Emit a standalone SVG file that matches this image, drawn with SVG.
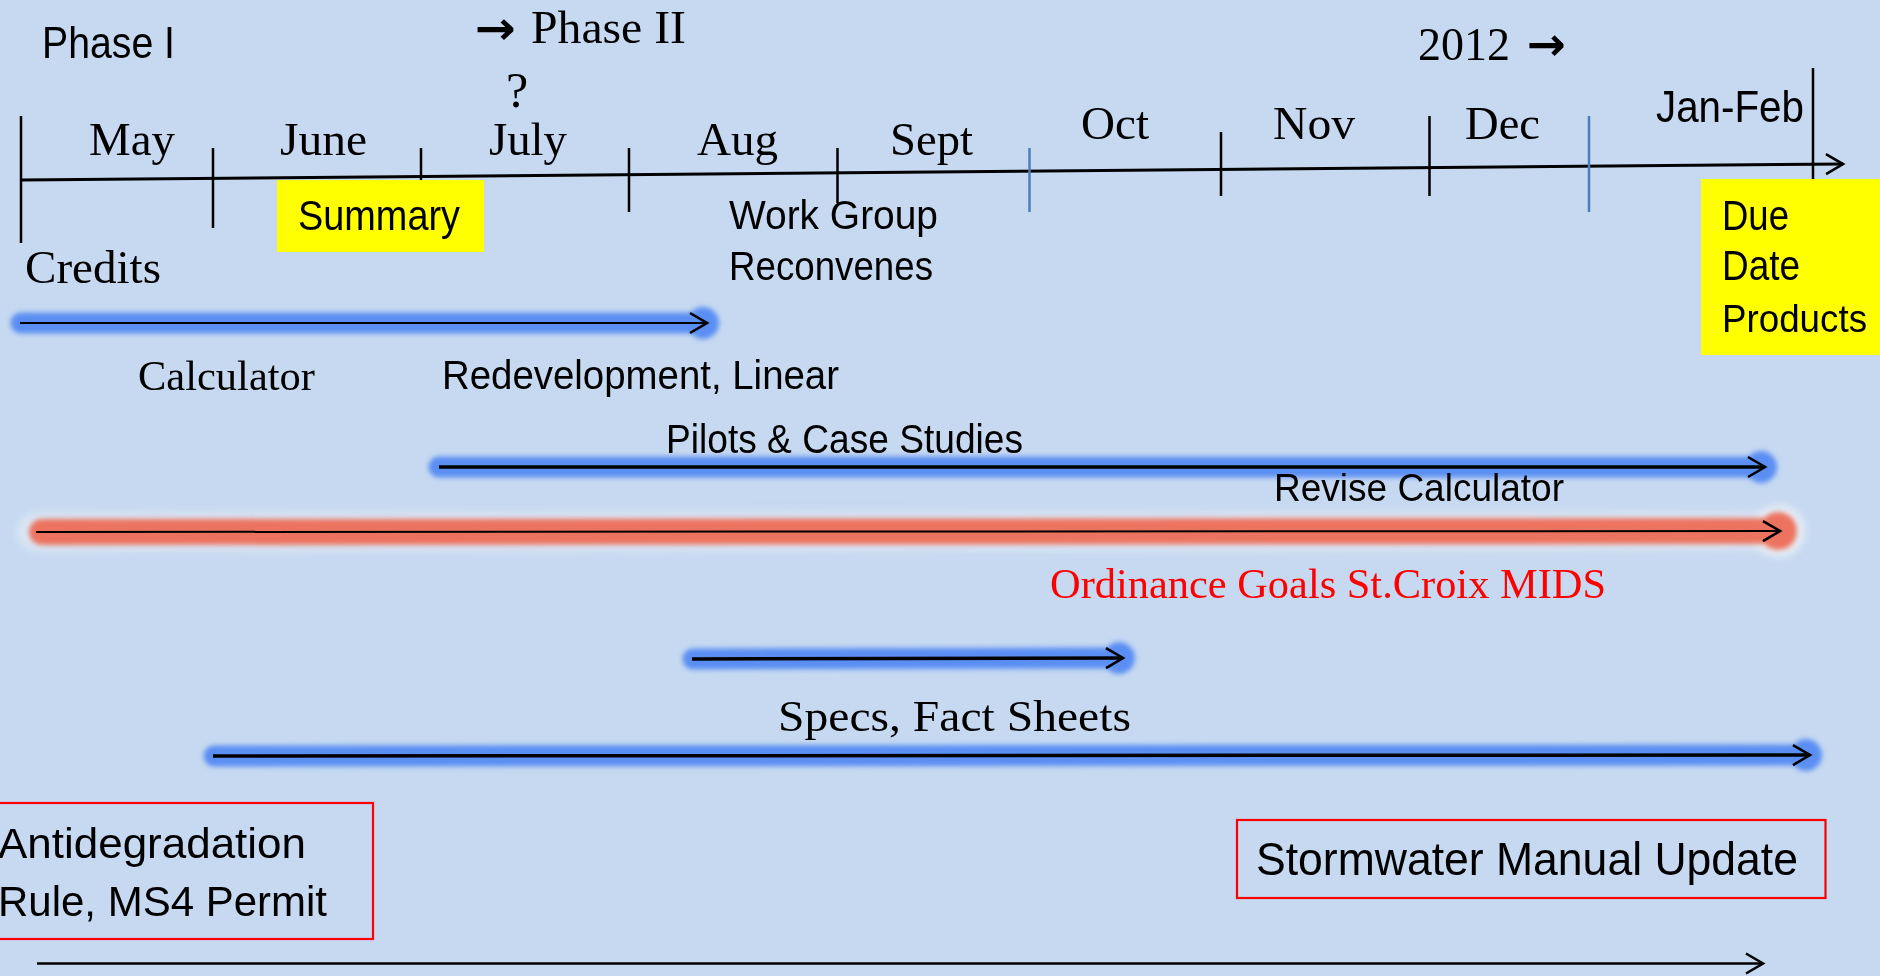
<svg xmlns="http://www.w3.org/2000/svg" width="1880" height="976" viewBox="0 0 1880 976">
<style>
.serif{font-family:"Liberation Serif","Times New Roman",serif;fill:#000}
.sans{font-family:"Liberation Sans",Arial,sans-serif;fill:#000}
.sym{font-family:"DejaVu Sans",sans-serif;font-weight:bold;fill:#000}
.tick{stroke:#000;stroke-width:2.5}
.btick{stroke:#4a7ebb;stroke-width:2.5}
.line{fill:none;stroke:#000}
.bglow{fill:none;stroke:#5a8ef3;stroke-width:21;stroke-linecap:round}
.rglow{fill:none;stroke:#ec735e;stroke-width:26;stroke-linecap:round}
.redbox{fill:none;stroke:#ff0000;stroke-width:2.2}
</style>
<defs>
<filter id="blur" filterUnits="userSpaceOnUse" x="0" y="0" width="1880" height="976"><feGaussianBlur stdDeviation="2.6"/></filter>
<filter id="blur2" filterUnits="userSpaceOnUse" x="0" y="0" width="1880" height="976"><feGaussianBlur stdDeviation="4"/></filter>
<marker id="chev" markerUnits="userSpaceOnUse" markerWidth="26" markerHeight="26" viewBox="-22 -13 26 26" refX="0" refY="0" orient="auto" overflow="visible">
<path d="M-17,-10 L0,0 L-17,10" fill="none" stroke="#000" stroke-width="2.6" stroke-linejoin="miter"/>
</marker>
</defs>
<rect x="0" y="0" width="1880" height="976" fill="#c6d9f1"/>

<g id="highlights">
<rect id="summary-box" x="277" y="180" width="207" height="72" fill="#ffff00"/>
<rect id="due-box" x="1701" y="179" width="179" height="176" fill="#ffff00"/>
</g>

<g id="timeline">
<path class="line" d="M21,180 L1843,164" stroke-width="3" marker-end="url(#chev)"/>
<line class="tick" x1="21" y1="116" x2="21" y2="243"/>
<line class="tick" x1="213" y1="148" x2="213" y2="228"/>
<line class="tick" x1="421" y1="148" x2="421" y2="180"/>
<line class="tick" x1="629" y1="148" x2="629" y2="212"/>
<line class="tick" x1="837.5" y1="148" x2="837.5" y2="203"/>
<line class="btick" x1="1029.5" y1="148" x2="1029.5" y2="212"/>
<line class="tick" x1="1221" y1="132" x2="1221" y2="196"/>
<line class="tick" x1="1429.5" y1="116" x2="1429.5" y2="196"/>
<line class="btick" x1="1589" y1="116" x2="1589" y2="212"/>
<line class="tick" x1="1813" y1="68" x2="1813" y2="179"/>
</g>

<g id="connectors">
<g filter="url(#blur)">
<path class="bglow" d="M21,323 L702,323"/>
<circle cx="703" cy="323" r="16" fill="#5a8ef3"/>
<path class="bglow" d="M439,467 L1760,467"/>
<circle cx="1761" cy="467" r="16" fill="#5a8ef3"/>
<path class="bglow" d="M693,659 L1118,658"/>
<circle cx="1119" cy="658" r="16" fill="#5a8ef3"/>
<path class="bglow" d="M214,756 L1805,755"/>
<circle cx="1806" cy="755" r="16" fill="#5a8ef3"/>
</g>
<g filter="url(#blur2)">
<path d="M36,532 L1778,531" fill="none" stroke="#eef2f8" stroke-width="38" stroke-linecap="round" opacity="0.55"/>
<circle cx="1779" cy="531" r="26" fill="#eef2f8" opacity="0.85"/>
</g>
<g filter="url(#blur)">
<path class="rglow" d="M42,532 L1776,531"/>
<circle cx="1778" cy="531" r="19" fill="#ec735e"/>
</g>
<path id="arrow-credits" class="line" d="M20,323 L707,323" stroke-width="2" marker-end="url(#chev)"/>
<path id="arrow-pilots" class="line" d="M439,467 L1765,467" stroke-width="3.5" marker-end="url(#chev)"/>
<path id="arrow-ordinance" class="line" d="M36,532 L1780,531" stroke-width="2" marker-end="url(#chev)"/>
<path id="arrow-specs-short" class="line" d="M692,659 L1123,658" stroke-width="3.5" marker-end="url(#chev)"/>
<path id="arrow-specs-long" class="line" d="M213,756 L1810,755" stroke-width="3.5" marker-end="url(#chev)"/>
<path id="arrow-bottom" class="line" d="M37,963.5 L1763,963.5" stroke-width="2.5" marker-end="url(#chev)"/>
</g>

<g id="header-labels">
<text id="phase1" class="sans" x="42" y="58" font-size="44" textLength="133" lengthAdjust="spacingAndGlyphs">Phase I</text>
<text id="phase2" class="serif" font-size="46"><tspan class="sym" x="475" y="28" font-size="46" dominant-baseline="central" textLength="41" lengthAdjust="spacingAndGlyphs">→</tspan><tspan x="531" y="43" dominant-baseline="alphabetic" textLength="155" lengthAdjust="spacingAndGlyphs">Phase II</tspan></text>
<text id="question" class="serif" x="506" y="107" font-size="50">?</text>
<text id="year2012" class="serif" font-size="46"><tspan x="1418" y="60" textLength="92" lengthAdjust="spacingAndGlyphs">2012</tspan><tspan class="sym" x="1527" y="44" font-size="46" dominant-baseline="central" textLength="39" lengthAdjust="spacingAndGlyphs">→</tspan></text>
</g>

<g id="months">
<text class="serif" x="89" y="155" font-size="47" textLength="86" lengthAdjust="spacingAndGlyphs">May</text>
<text class="serif" x="280" y="155" font-size="47" textLength="87" lengthAdjust="spacingAndGlyphs">June</text>
<text class="serif" x="489" y="155" font-size="47" textLength="78" lengthAdjust="spacingAndGlyphs">July</text>
<text class="serif" x="697" y="155" font-size="47" textLength="81" lengthAdjust="spacingAndGlyphs">Aug</text>
<text class="serif" x="890" y="155" font-size="47" textLength="83" lengthAdjust="spacingAndGlyphs">Sept</text>
<text class="serif" x="1081" y="139" font-size="47" textLength="68" lengthAdjust="spacingAndGlyphs">Oct</text>
<text class="serif" x="1273" y="139" font-size="47" textLength="82" lengthAdjust="spacingAndGlyphs">Nov</text>
<text class="serif" x="1465" y="139" font-size="47" textLength="75" lengthAdjust="spacingAndGlyphs">Dec</text>
<text class="sans" x="1656" y="122" font-size="44" textLength="148" lengthAdjust="spacingAndGlyphs">Jan-Feb</text>
</g>

<g id="node-summary">
<text class="sans" x="298" y="230" font-size="42" textLength="162" lengthAdjust="spacingAndGlyphs">Summary</text>
</g>
<g id="node-due">
<text class="sans" x="1722" y="230" font-size="42" textLength="67" lengthAdjust="spacingAndGlyphs">Due</text>
<text class="sans" x="1722" y="280" font-size="42" textLength="78" lengthAdjust="spacingAndGlyphs">Date</text>
<text class="sans" x="1722" y="332" font-size="39" textLength="145" lengthAdjust="spacingAndGlyphs">Products</text>
</g>
<g id="node-workgroup">
<text class="sans" x="729" y="229" font-size="41" textLength="209" lengthAdjust="spacingAndGlyphs">Work Group</text>
<text class="sans" x="729" y="280" font-size="41" textLength="204" lengthAdjust="spacingAndGlyphs">Reconvenes</text>
</g>
<g id="node-credits">
<text class="serif" x="25" y="283" font-size="46" textLength="136" lengthAdjust="spacingAndGlyphs">Credits</text>
</g>
<g id="node-calculator">
<text class="serif" x="138" y="390" font-size="42" textLength="177" lengthAdjust="spacingAndGlyphs">Calculator</text>
</g>
<g id="node-redevelopment">
<text class="sans" x="442" y="389" font-size="41" textLength="397" lengthAdjust="spacingAndGlyphs">Redevelopment, Linear</text>
</g>
<g id="node-pilots">
<text class="sans" x="666" y="453" font-size="41" textLength="357" lengthAdjust="spacingAndGlyphs">Pilots &amp; Case Studies</text>
</g>
<g id="node-revise">
<text class="sans" x="1274" y="501" font-size="38" textLength="290" lengthAdjust="spacingAndGlyphs">Revise Calculator</text>
</g>
<g id="node-ordinance">
<text class="serif" x="1050" y="598" font-size="42" style="fill:#ff0000" textLength="556" lengthAdjust="spacingAndGlyphs">Ordinance Goals St.Croix MIDS</text>
</g>
<g id="node-specs">
<text class="serif" x="778" y="731" font-size="45" textLength="353" lengthAdjust="spacingAndGlyphs">Specs, Fact Sheets</text>
</g>
<g id="node-antidegradation">
<rect class="redbox" x="-5" y="803" width="378" height="136"/>
<text class="sans" x="-2" y="858" font-size="43" textLength="308" lengthAdjust="spacingAndGlyphs">Antidegradation</text>
<text class="sans" x="-2" y="916" font-size="43" textLength="329" lengthAdjust="spacingAndGlyphs">Rule, MS4 Permit</text>
</g>
<g id="node-stormwater">
<rect class="redbox" x="1237" y="820" width="588.5" height="78"/>
<text class="sans" x="1256" y="875" font-size="46" textLength="542" lengthAdjust="spacingAndGlyphs">Stormwater Manual Update</text>
</g>
</svg>
